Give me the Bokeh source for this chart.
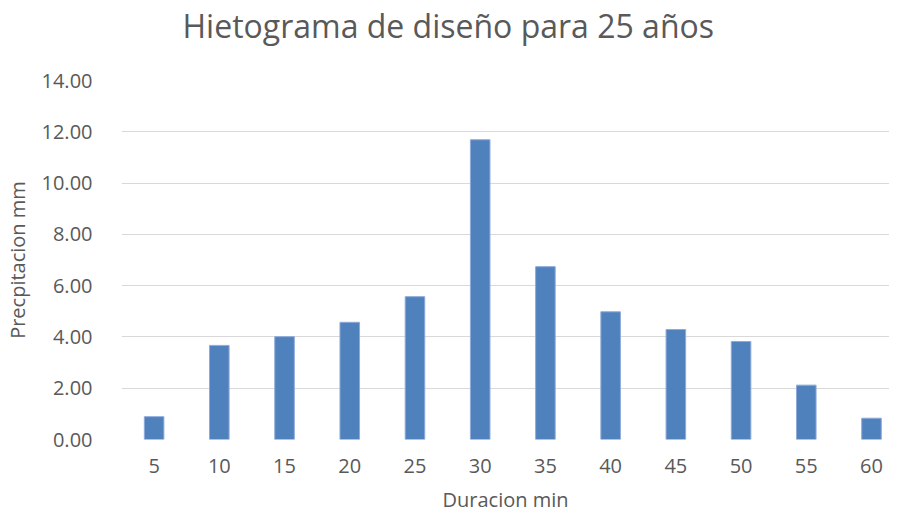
from bokeh.plotting import figure
from bokeh.models import Range1d, FixedTicker, NumeralTickFormatter, Title
from bokeh.embed import file_html
from bokeh.resources import INLINE

# Data
durations = [5, 10, 15, 20, 25, 30, 35, 40, 45, 50, 55, 60]
precip_mm = [0.89, 3.67, 4.01, 4.57, 5.57, 11.69, 6.74, 4.98, 4.29, 3.82, 2.12, 0.83]
y_ticks = [0, 2, 4, 6, 8, 10, 12, 14]
title_text = "Hietograma de diseño para 25 años"

TEXT = "#595959"
FONT = "Open Sans"

p = figure(width=889, height=515, output_backend="svg", toolbar_location=None,
           title=None,
           x_range=Range1d(2.5, 61.38), y_range=Range1d(0, 14),
           min_border_left=112, min_border_right=0,
           min_border_top=80, min_border_bottom=74)

# invisible spacer between title and plot area
spacer = Title(text=" ", text_font_size="1px", standoff=31, text_color="white")
p.add_layout(spacer, "above")
title = Title(text=title_text, align="left", offset=61, standoff=0,
              text_font=FONT, text_font_size="32px", text_font_style="normal",
              text_color=TEXT)
p.add_layout(title, "above")

p.vbar(x=durations, top=precip_mm, width=1.5, bottom=0,
       fill_color="#4F81BD", line_color="#8EAADB", line_width=1)

p.outline_line_color = None
p.background_fill_color = "white"
p.border_fill_color = "white"

p.xgrid.grid_line_color = None
p.ygrid.grid_line_color = "#D9D9D9"
p.ygrid.grid_line_width = 1

p.yaxis.ticker = FixedTicker(ticks=y_ticks)
p.yaxis.formatter = NumeralTickFormatter(format="0.00")
p.xaxis.ticker = FixedTicker(ticks=durations)

for ax in (p.xaxis[0], p.yaxis[0]):
    ax.axis_line_color = None
    ax.major_tick_line_color = None
    ax.minor_tick_line_color = None
    ax.major_label_text_font = FONT
    ax.major_label_text_font_size = "20px"
    ax.major_label_text_color = TEXT
    ax.axis_label_text_font = FONT
    ax.axis_label_text_font_size = "20px"
    ax.axis_label_text_font_style = "normal"
    ax.axis_label_text_color = TEXT

p.yaxis.axis_label = "Precpitacion mm"
p.yaxis.major_label_standoff = 23
p.yaxis.axis_label_standoff = 8

p.xaxis.axis_label = "Duracion min"
p.xaxis.major_label_standoff = 13
p.xaxis.axis_label_standoff = 10

open("out.html", "w").write(file_html(p, INLINE))
